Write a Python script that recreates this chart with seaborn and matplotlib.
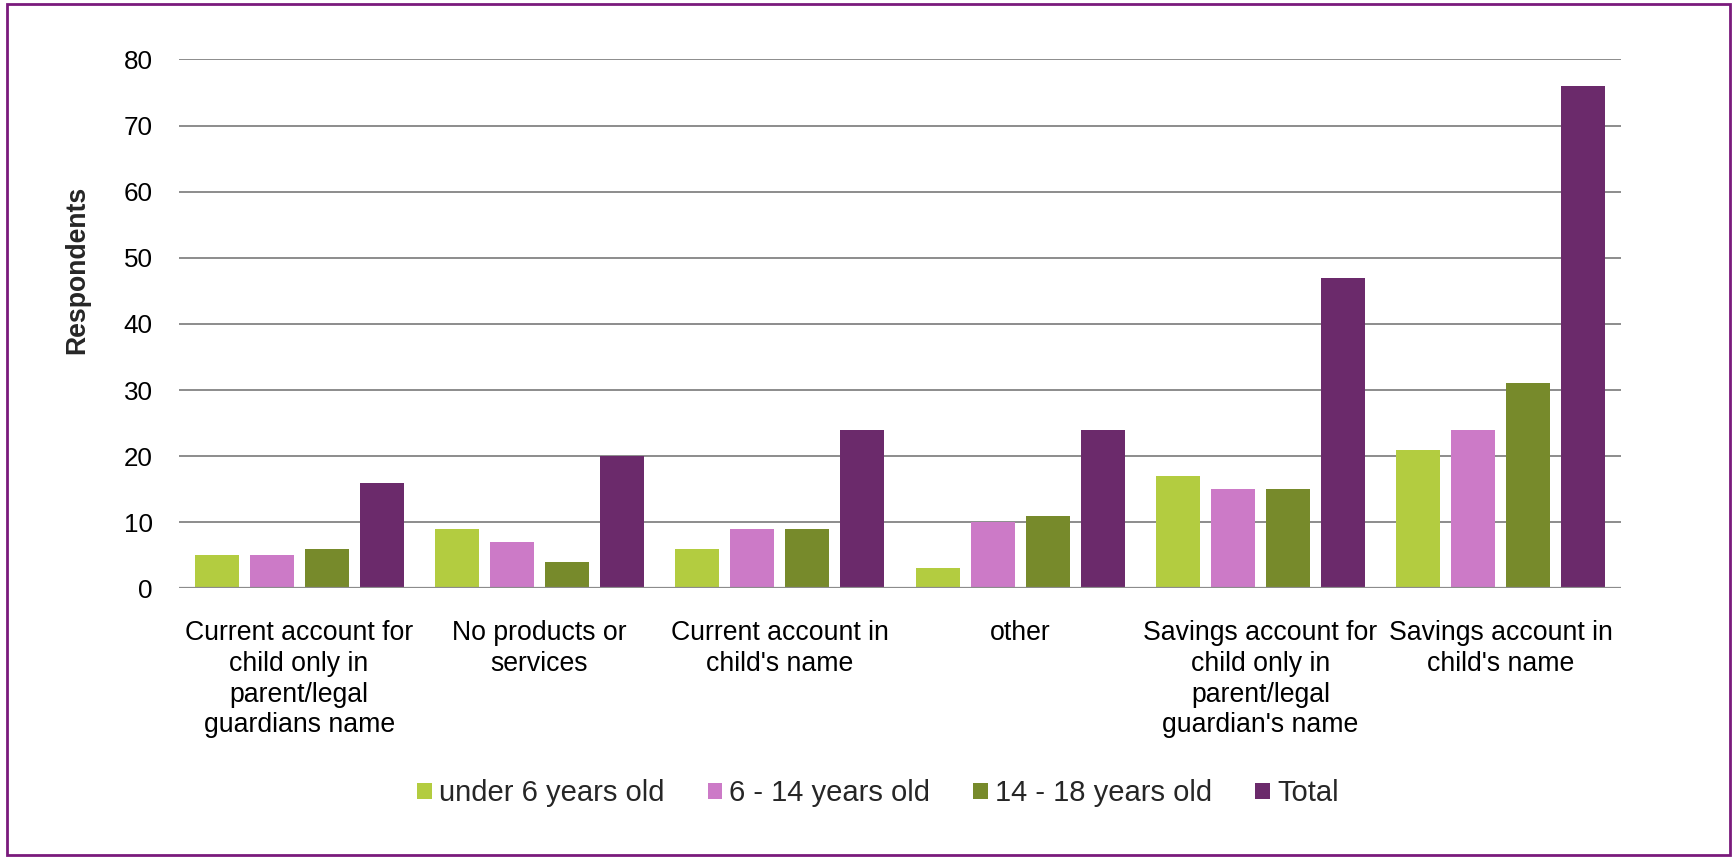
import matplotlib
matplotlib.use("Agg")
import matplotlib.pyplot as plt
from matplotlib.patches import Rectangle
import pandas as pd
import seaborn as sns

# Chart data
categories = [
    "Current account for\nchild only in\nparent/legal\nguardians name",
    "No products or\nservices",
    "Current account in\nchild's name",
    "other",
    "Savings account for\nchild only in\nparent/legal\nguardian's name",
    "Savings account in\nchild's name",
]
series_names = ["under 6 years old", "6 - 14 years old", "14 - 18 years old", "Total"]
under_6 = [5, 9, 6, 3, 17, 21]
age_6_14 = [5, 7, 9, 10, 15, 24]
age_14_18 = [6, 4, 9, 11, 15, 31]
total = [16, 20, 24, 24, 47, 76]
y_ticks = [0, 10, 20, 30, 40, 50, 60, 70, 80]

colors = ["#B3CC40", "#CC7AC7", "#778A2B", "#6B2A6B"]

rows = []
for name, vals in zip(series_names, [under_6, age_6_14, age_14_18, total]):
    for cat, v in zip(categories, vals):
        rows.append({"category": cat, "group": name, "value": v})
df = pd.DataFrame(rows)

sns.set_style("white")
plt.rcParams["font.family"] = ["Liberation Sans", "DejaVu Sans"]

fig = plt.figure(figsize=(17.34, 8.57), dpi=100)
ax = fig.add_axes([0.1032, 0.3135, 0.8316, 0.6171])

sns.barplot(
    data=df, x="category", y="value", hue="group",
    order=categories, hue_order=series_names,
    palette=colors, saturation=1, width=0.916, gap=0.2,
    linewidth=0, ax=ax, zorder=3,
)

ax.set_ylim(0, 80)
ax.set_yticks(y_ticks)
ax.set_xlim(-0.5, len(categories) - 0.5)
ax.yaxis.grid(True, color="#8C8C8C", linewidth=1.4, zorder=0)
ax.set_axisbelow(True)
for side in ["top", "right", "left", "bottom"]:
    ax.spines[side].set_visible(False)
ax.axhline(0, color="#8C8C8C", linewidth=1.6, zorder=4)

ax.tick_params(axis="y", length=0, pad=19, labelsize=18.7, labelcolor="black")
ax.tick_params(axis="x", length=0, pad=23, labelsize=19.2, labelcolor="black")
for t in ax.get_xticklabels():
    t.set_linespacing(1.235)

ax.set_xlabel("")
ax.set_ylabel("")
fig.text(77 / 1734, 1 - 270 / 857, "Respondents", rotation=90,
         ha="center", va="center", fontsize=19.2, fontweight="bold")

handles, labels = ax.get_legend_handles_labels()
ax.get_legend().remove()
fig.legend(handles, labels, loc="center", bbox_to_anchor=(878 / 1734, 1 - 793 / 857),
           ncol=4, frameon=False, fontsize=21, handlelength=0.51, handleheight=0.48,
           handletextpad=0.24, columnspacing=1.47)

# Outer frame around the chart area
fig.patches.append(Rectangle((7 / 1734, 2 / 857), 1723 / 1734, 851 / 857,
                             transform=fig.transFigure, fill=False,
                             edgecolor="#7A1A7C", linewidth=2))

fig.savefig("out.png", dpi=100)
